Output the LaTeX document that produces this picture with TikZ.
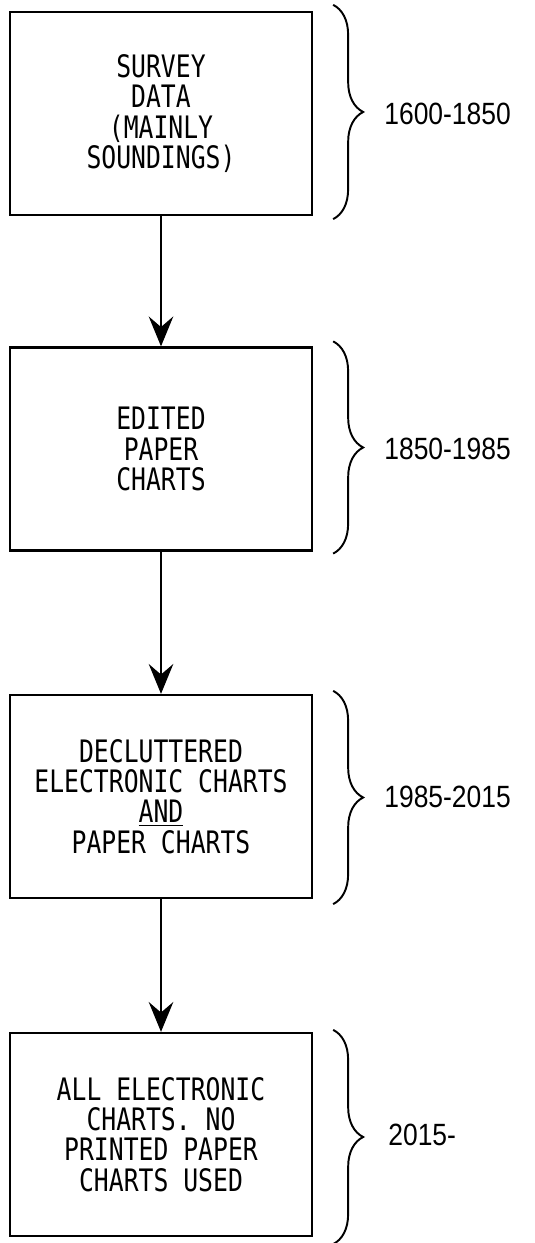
\documentclass[tikz,border=0pt]{standalone}
\usepackage{fontspec}
\newfontfamily\boxfont[FakeStretch=0.8]{DejaVu Sans Mono}
\newfontfamily\yearfont[FakeStretch=0.86]{Liberation Sans}
\usetikzlibrary{positioning,arrows.meta,decorations.pathreplacing,calc}

\tikzset{
  stagebox/.style={draw, line width=1.3pt, minimum width=6.04cm, minimum height=4.06cm,
    align=center, font=\boxfont\fontsize{17.6}{17.2}\selectfont},
  flowarrow/.style={line width=0.7pt, -{Stealth[length=17pt,width=14pt,inset=6pt]}},
  periodbrace/.style={line width=1.1pt, decorate, decoration={brace,amplitude=0.6cm}},
  yearlabel/.style={font=\yearfont\fontsize{17.5}{18}\selectfont}
}

\begin{document}
\begin{tikzpicture}
\useasboundingbox (0,0) rectangle (10.68,24.86);

\node [stagebox] (survey) at (3.22,22.59) {SURVEY\\DATA\\(MAINLY\\SOUNDINGS)};
\node [stagebox] (edited) at (3.22,15.88) {EDITED\\PAPER\\CHARTS};
\node [stagebox] (declut) at (3.22,8.93) {DECLUTTERED\\ELECTRONIC CHARTS\\\underline{AND}\\PAPER CHARTS};
\node [stagebox] (allelec) at (3.22,2.17) {ALL ELECTRONIC\\CHARTS. NO\\PRINTED PAPER\\CHARTS USED};

\draw [flowarrow] (survey.south) -- (edited.north);
\draw [flowarrow] (edited.south) -- (declut.north);
\draw [flowarrow] (declut.south) -- (allelec.north);

\draw [periodbrace] ($(survey.north east)+(0.4,0.12)$) -- ($(survey.south east)+(0.4,-0.06)$);
\draw [periodbrace] ($(edited.north east)+(0.4,0.1)$) -- ($(edited.south east)+(0.4,-0.04)$);
\draw [periodbrace] ($(declut.north east)+(0.4,0.06)$) -- ($(declut.south east)+(0.4,-0.1)$);
\draw [periodbrace] ($(allelec.north east)+(0.4,0.04)$) -- ($(allelec.south east)+(0.4,-0.14)$);

\node [yearlabel, right=1.3cm of survey.east] (y1600) {1600-1850};
\node [yearlabel, right=1.3cm of edited.east] (y1850) {1850-1985};
\node [yearlabel, right=1.3cm of declut.east] (y1985) {1985-2015};
\node [yearlabel, right=1.38cm of allelec.east] (y2015) {2015-};
\end{tikzpicture}
\end{document}
